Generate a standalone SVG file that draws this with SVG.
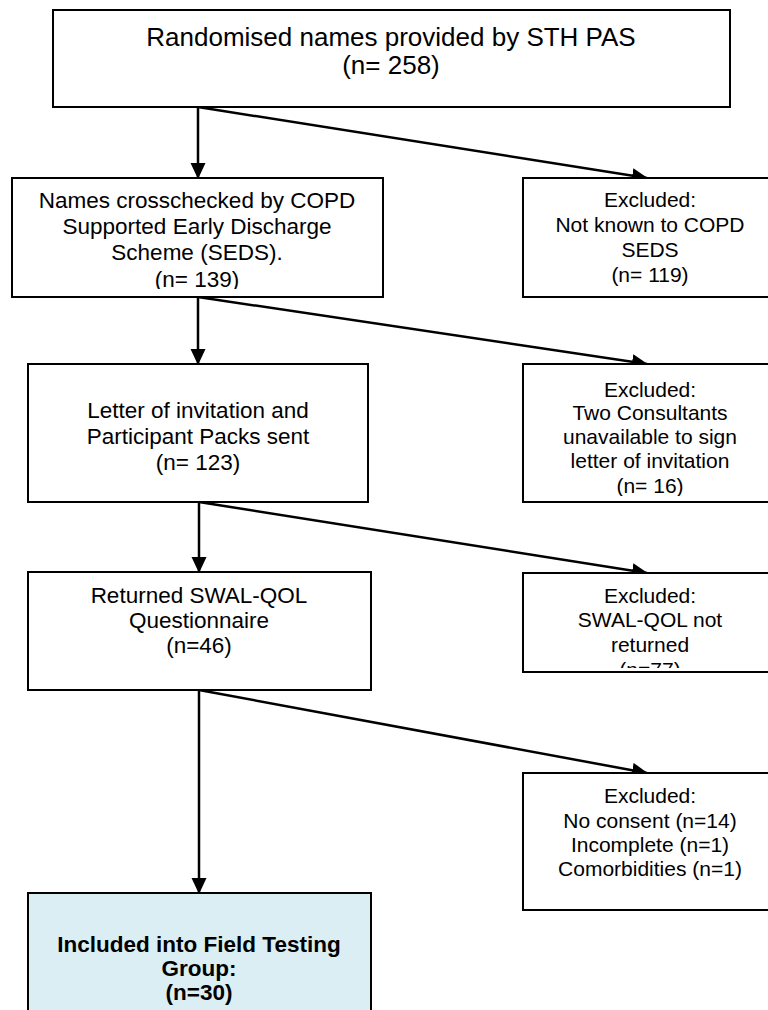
<svg xmlns="http://www.w3.org/2000/svg" width="768" height="1010" viewBox="0 0 768 1010">
  <style>
    .box { fill: #ffffff; stroke: #000000; stroke-width: 2; }
    .final { fill: #dbeef3; stroke: #000000; stroke-width: 2; }
    .t { font-family: "Liberation Sans", Arial, sans-serif; fill: #000000; text-anchor: middle; }
    .top { font-size: 26px; }
    .main { font-size: 22.5px; }
    .side { font-size: 21px; }
    .bold { font-size: 22.5px; font-weight: bold; }
    .conn { stroke: #000000; stroke-width: 2.5; fill: none; marker-end: url(#arrow); }
  </style>
  <defs>
    <marker id="arrow" viewBox="0 0 16 16" refX="15" refY="8" markerWidth="16" markerHeight="16" markerUnits="userSpaceOnUse" orient="auto">
      <path d="M0,0.5 L16,8 L0,15.5 Z" fill="#000000"/>
    </marker>
    <clipPath id="clipNames"><rect x="12" y="178" width="371" height="111"/></clipPath>
    <clipPath id="clipConsult"><rect x="523" y="364" width="260" height="132"/></clipPath>
    <clipPath id="clipNotReturned"><rect x="523" y="573" width="260" height="95"/></clipPath>
  </defs>

  <g id="connectors">
    <line class="conn" x1="198" y1="107" x2="198" y2="178"/>
    <line class="conn" x1="198" y1="107" x2="647" y2="178"/>
    <line class="conn" x1="198" y1="297" x2="198" y2="364"/>
    <line class="conn" x1="198" y1="297" x2="647" y2="364"/>
    <line class="conn" x1="199" y1="502" x2="199" y2="572"/>
    <line class="conn" x1="199" y1="502" x2="647" y2="573"/>
    <line class="conn" x1="199" y1="690" x2="199" y2="893"/>
    <line class="conn" x1="199" y1="690" x2="647" y2="773"/>
  </g>

  <g id="randomised">
    <rect class="box" x="53" y="10" width="677" height="97"/>
    <text class="t top" x="391" y="46">Randomised names provided by STH PAS</text>
    <text class="t top" x="391" y="74">(n= 258)</text>
  </g>

  <g id="crosschecked">
    <rect class="box" x="12" y="178" width="371" height="119"/>
    <g clip-path="url(#clipNames)">
      <text class="t main" x="197" y="208">Names crosschecked by COPD</text>
      <text class="t main" x="197" y="234">Supported Early Discharge</text>
      <text class="t main" x="197" y="260">Scheme (SEDS).</text>
      <text class="t main" x="197" y="287">(n= 139)</text>
    </g>
  </g>

  <g id="excluded-not-known">
    <rect class="box" x="523" y="178" width="260" height="119"/>
    <text class="t side" x="650" y="207">Excluded:</text>
    <text class="t side" x="650" y="232">Not known to COPD</text>
    <text class="t side" x="650" y="257">SEDS</text>
    <text class="t side" x="650" y="282">(n= 119)</text>
  </g>

  <g id="invitation">
    <rect class="box" x="28" y="364" width="340" height="138"/>
    <text class="t main" x="198" y="418">Letter of invitation and</text>
    <text class="t main" x="198" y="444">Participant Packs sent</text>
    <text class="t main" x="198" y="470">(n= 123)</text>
  </g>

  <g id="excluded-consultants">
    <rect class="box" x="523" y="364" width="260" height="138"/>
    <g clip-path="url(#clipConsult)">
      <text class="t side" x="650" y="397">Excluded:</text>
      <text class="t side" x="650" y="420">Two Consultants</text>
      <text class="t side" x="650" y="444">unavailable to sign</text>
      <text class="t side" x="650" y="468">letter of invitation</text>
      <text class="t side" x="650" y="493">(n= 16)</text>
    </g>
  </g>

  <g id="returned">
    <rect class="box" x="28" y="572" width="343" height="118"/>
    <text class="t main" x="199" y="603">Returned SWAL-QOL</text>
    <text class="t main" x="199" y="628">Questionnaire</text>
    <text class="t main" x="199" y="653">(n=46)</text>
  </g>

  <g id="excluded-not-returned">
    <rect class="box" x="523" y="573" width="260" height="99"/>
    <g clip-path="url(#clipNotReturned)">
      <text class="t side" x="650" y="603">Excluded:</text>
      <text class="t side" x="650" y="627">SWAL-QOL not</text>
      <text class="t side" x="650" y="652">returned</text>
      <text class="t side" x="650" y="677">(n=77)</text>
    </g>
  </g>

  <g id="excluded-consent">
    <rect class="box" x="523" y="773" width="260" height="137"/>
    <text class="t side" x="650" y="803">Excluded:</text>
    <text class="t side" x="650" y="828">No consent (n=14)</text>
    <text class="t side" x="650" y="852">Incomplete (n=1)</text>
    <text class="t side" x="650" y="876">Comorbidities (n=1)</text>
  </g>

  <g id="included">
    <rect class="final" x="28" y="893" width="343" height="130"/>
    <text class="t bold" x="199" y="952">Included into Field Testing</text>
    <text class="t bold" x="199" y="976">Group:</text>
    <text class="t bold" x="199" y="1000">(n=30)</text>
  </g>
</svg>
